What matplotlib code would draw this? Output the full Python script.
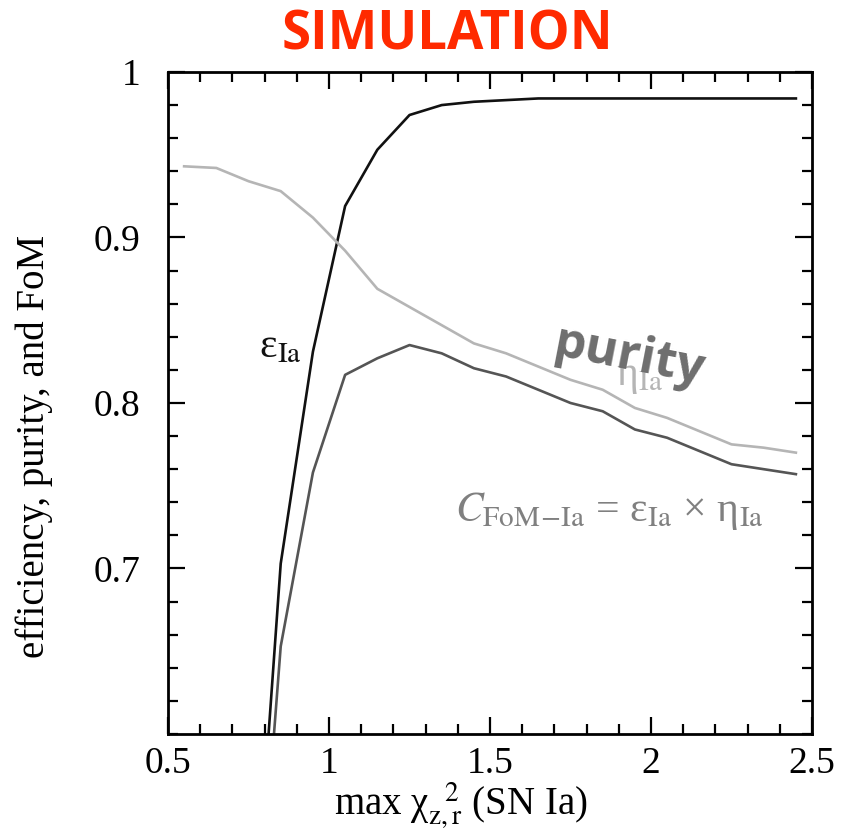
import matplotlib
matplotlib.use("Agg")
from matplotlib import pyplot as plt
from matplotlib.ticker import MultipleLocator

# sample points of the max chi^2 cut
chi2_cut = [0.55, 0.65, 0.75, 0.85, 0.95, 1.05, 1.15, 1.25, 1.35, 1.45,
            1.55, 1.65, 1.75, 1.85, 1.95, 2.05, 2.15, 2.25, 2.35, 2.45]

# efficiency (black), starts below the plot
eff_x = [0.75, 0.85, 0.95, 1.05, 1.15, 1.25, 1.35, 1.45, 1.55, 1.65,
         1.75, 1.85, 1.95, 2.05, 2.15, 2.25, 2.35, 2.45]
efficiency = [0.43, 0.703, 0.831, 0.919, 0.953, 0.974, 0.980, 0.982, 0.983, 0.984,
              0.984, 0.984, 0.984, 0.984, 0.984, 0.984, 0.984, 0.984]

purity = [0.943, 0.942, 0.934, 0.928, 0.912, 0.892, 0.869, 0.858, 0.847, 0.836,
          0.830, 0.822, 0.814, 0.808, 0.797, 0.791, 0.783, 0.775, 0.773, 0.770]

fom = [0.40, 0.653, 0.758, 0.817, 0.827, 0.835, 0.830, 0.821, 0.816, 0.808,
       0.800, 0.795, 0.784, 0.779, 0.771, 0.763, 0.760, 0.757]

xticks = [0.5, 1, 1.5, 2, 2.5]
xticklabels = ["0.5", "1", "1.5", "2", "2.5"]
yticks = [0.7, 0.8, 0.9, 1.0]
yticklabels = ["0.7", "0.8", "0.9", "1"]

plt.rcParams["font.family"] = ["Liberation Serif", "DejaVu Serif"]
plt.rcParams["mathtext.fontset"] = "stix"

fig = plt.figure(figsize=(8.41, 8.34), dpi=100)
ax = fig.add_axes([0.1998, 0.1199, 0.7657, 0.7938])

ax.plot(eff_x, efficiency, color="#111111", lw=1.9)
ax.plot(chi2_cut, purity, color="#b5b5b5", lw=1.9)
ax.plot(eff_x, fom, color="#555555", lw=1.9)

ax.set_xlim(0.5, 2.5)
ax.set_ylim(0.6, 1.0)
ax.set_xticks(xticks)
ax.set_xticklabels(xticklabels)
ax.set_yticks(yticks)
ax.set_yticklabels(yticklabels)
ax.xaxis.set_minor_locator(MultipleLocator(0.1))
ax.yaxis.set_minor_locator(MultipleLocator(0.02))
ax.tick_params(which="both", direction="in", top=True, right=True, width=1.6)
ax.tick_params(which="major", length=12, labelsize=27)
ax.tick_params(which="minor", length=7)
ax.tick_params(axis="y", pad=20)
ax.tick_params(axis="x", pad=9)
for s in ax.spines.values():
    s.set_linewidth(2)

ax.set_xlabel(r"max χ$_{\rm z,r}^{\;\;\;2}$ (SN Ia)", fontsize=28)
ax.xaxis.set_label_coords(0.455, -0.07)
ax.set_ylabel("efficiency, purity, and FoM", fontsize=28)
ax.yaxis.set_label_coords(-0.178, 0.435)

ax.text(0.85, 0.834, r"ε$_{\rm Ia}$", fontsize=30, color="#111111",
        ha="center", va="center")
ax.text(1.965, 0.816, r"η$_{\rm Ia}$", fontsize=30, color="#b5b5b5",
        ha="center", va="center")
ax.text(1.87, 0.735,
        r"$C_{\rm FoM\!-\!Ia}$ = ε$_{\rm Ia}$ × η$_{\rm Ia}$",
        fontsize=30, color="#808080", ha="center", va="center")
ax.text(1.93, 0.828, "purity", fontsize=36, fontweight="bold", color="#6e6e6e",
        family=["Open Sans", "DejaVu Sans"], rotation=-11,
        ha="center", va="center")

fig.text(0.532, 0.958, "SIMULATION", fontsize=38, fontweight="bold",
         color="#ff2a00", family=["Open Sans", "DejaVu Sans"],
         ha="center", va="center")

fig.savefig("out.png", dpi=100)
